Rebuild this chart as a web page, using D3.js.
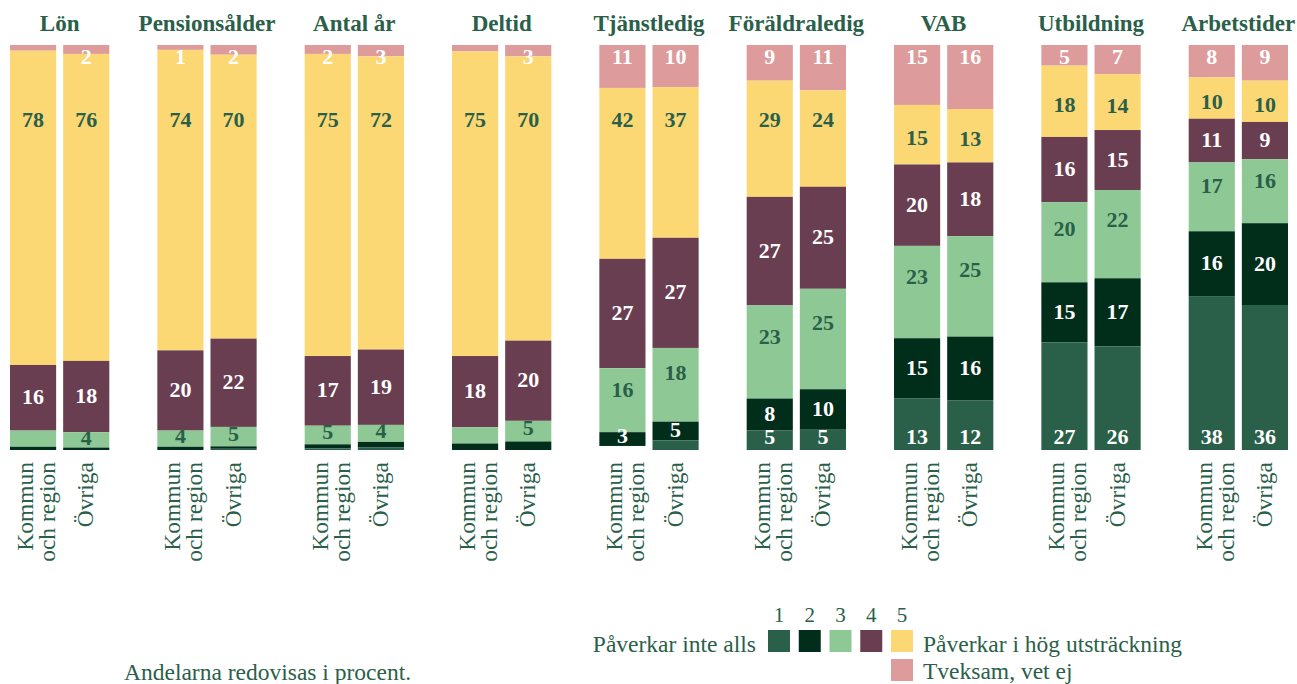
<!DOCTYPE html>
<html>
<head>
<meta charset="utf-8">
<script src="https://cdn.jsdelivr.net/npm/d3@7"></script>
<style>
  body { margin: 0; background: #fff; }
  svg { display: block; }
  text { font-family: "Liberation Serif", serif; }
</style>
</head>
<body>
<svg width="1297" height="684"></svg>
<script>
const groups = ["Lön", "Pensionsålder", "Antal år", "Deltid", "Tjänstledig", "Föräldraledig", "VAB", "Utbildning", "Arbetstider"];
const sectors = ["Kommun och region", "Övriga"];
// stacked from the top down
const seriesKeys = ["Tveksam", "5", "4", "3", "2", "1"];

// values per bar, order: Lön K, Lön Ö, Pensionsålder K, ...
const tveksam = [1.4, 2.2, 1.2, 2.4, 2.2, 2.8, 1.6, 2.8, 10.6, 10.4, 8.8, 11.2, 14.8, 15.8, 5.1, 7.2, 8, 8.8];
const s5 = [77.6, 75.8, 74.2, 70.1, 74.6, 72.4, 75.2, 70.2, 42.2, 37.2, 28.7, 23.8, 14.7, 13.2, 17.6, 13.8, 10.2, 10.2];
const s4 = [16.2, 17.6, 19.8, 21.8, 17.2, 18.6, 17.6, 19.8, 27, 27.2, 26.8, 25.2, 20.1, 18.2, 16.1, 14.8, 10.8, 9.2];
const s3 = [4, 3.8, 4, 4.8, 4.6, 4.2, 4, 5.1, 15.8, 18.2, 23, 24.8, 22.8, 24.8, 19.8, 21.8, 17, 15.8];
const s2 = [0.8, 0.6, 0.8, 0.6, 1, 1.4, 1.6, 2.1, 3.4, 4.6, 7.9, 10, 14.8, 15.8, 14.8, 16.8, 16, 20.2];
const s1 = [0, 0, 0, 0.3, 0.4, 0.6, 0, 0, 0, 2.4, 4.8, 5, 12.8, 12.2, 26.6, 25.6, 38, 35.8];

const hiddenLabels = [
  ["Lön", "Kommun och region", "Tveksam"],
  ["Lön", "Kommun och region", "3"],
  ["Deltid", "Kommun och region", "Tveksam"],
  ["Deltid", "Kommun och region", "3"]
];

const legendKeys = ["1", "2", "3", "4", "5"];
const colors = {
  "1": "#2a6049",
  "2": "#012d1b",
  "3": "#8ec995",
  "4": "#693e50",
  "5": "#fcd874",
  "Tveksam": "#dd9b9b"
};
const textGreen = "#2a6049";
const labelColor = { "Tveksam": "#fff", "5": textGreen, "4": "#fff", "3": textGreen, "2": "#fff", "1": "#fff" };

const rows = [];
groups.forEach((g, i) => {
  sectors.forEach((s, j) => {
    const k = i * 2 + j;
    rows.push({ group: g, sector: s, "Tveksam": tveksam[k], "5": s5[k], "4": s4[k], "3": s3[k], "2": s2[k], "1": s1[k] });
  });
});

const svg = d3.select('svg');

const x0 = d3.scaleBand().domain(groups).range([10, 1288]).paddingInner(0.326).paddingOuter(0);
const x1 = d3.scaleBand().domain(sectors).range([0, x0.bandwidth()]).paddingInner(0.132).paddingOuter(0);
const y = d3.scaleLinear().domain([0, 100]).range([45, 450]);

const stacked = d3.stack().keys(seriesKeys)(rows);

// bars
const layers = svg.append('g')
  .selectAll('g')
  .data(stacked)
  .join('g')
  .attr('fill', d => colors[d.key]);

layers.selectAll('rect')
  .data(d => d)
  .join('rect')
  .attr('x', d => x0(d.data.group) + x1(d.data.sector))
  .attr('y', d => y(d[0]))
  .attr('width', x1.bandwidth())
  .attr('height', d => y(d[1]) - y(d[0]));

// value labels
function isHidden(key, d) {
  const v = d[1] - d[0];
  if ((key === "1" || key === "2") && v < 3) return true;
  if (v < 0.5) return true;
  return hiddenLabels.some(h => h[0] === d.data.group && h[1] === d.data.sector && h[2] === key);
}

function labelY(key, d) {
  const top = y(d[0]), bot = y(d[1]), mid = (top + bot) / 2;
  if (key === "Tveksam") return top + 12;
  if (key === "5") return (d[1] - d[0]) >= 20 ? y(18.5) : mid + 3;
  if (key === "3") return top + (bot - top) / 3;
  if (key === "1") return bot - 13;
  if (key === "2") return Math.min(mid - 1, bot - 10);
  return mid - 1;
}

const labels = svg.append('g')
  .attr('text-anchor', 'middle')
  .style('font-weight', 'bold')
  .style('font-size', '22px');

stacked.forEach(series => {
  labels.append('g')
    .attr('fill', labelColor[series.key])
    .selectAll('text')
    .data(series.filter(d => !isHidden(series.key, d)))
    .join('text')
    .attr('x', d => x0(d.data.group) + x1(d.data.sector) + x1.bandwidth() / 2)
    .attr('y', d => labelY(series.key, d))
    .attr('dy', '0.34em')
    .text(d => d3.format('.0f')(d[1] - d[0]));
});

// group titles
svg.append('g')
  .selectAll('text')
  .data(groups)
  .join('text')
  .attr('x', d => x0(d) + x0.bandwidth() / 2)
  .attr('y', 31)
  .attr('text-anchor', 'middle')
  .attr('fill', textGreen)
  .style('font-weight', 'bold')
  .style('font-size', '23px')
  .text(d => d);

// rotated sector labels under each bar
const axisLabels = svg.append('g')
  .selectAll('g')
  .data(rows)
  .join('g')
  .attr('transform', d => `translate(${x0(d.group) + x1(d.sector) + x1.bandwidth() / 2},462) rotate(-90)`);

axisLabels.append('text')
  .attr('text-anchor', 'end')
  .attr('fill', textGreen)
  .style('font-size', '23.5px')
  .each(function (d) {
    const t = d3.select(this);
    if (d.sector === "Övriga") {
      t.append('tspan').attr('x', 0).attr('y', 7).text("Övriga");
    } else {
      t.append('tspan').attr('x', 0).attr('y', 0).text("Kommun");
      t.append('tspan').attr('x', 0).attr('y', 22).text("och region");
    }
  });

// legend
const legend = svg.append('g').attr('fill', textGreen).style('font-size', '23.5px');

legend.append('text')
  .attr('x', 756)
  .attr('y', 652)
  .attr('text-anchor', 'end')
  .text('Påverkar inte alls');

const lx = d3.scaleBand().domain(legendKeys).range([768, 913]).paddingInner(0.285).paddingOuter(0);

legend.selectAll('rect.key')
  .data(legendKeys)
  .join('rect')
  .attr('class', 'key')
  .attr('x', d => lx(d))
  .attr('y', 630)
  .attr('width', lx.bandwidth())
  .attr('height', 22)
  .attr('fill', d => colors[d]);

legend.selectAll('text.num')
  .data(legendKeys)
  .join('text')
  .attr('class', 'num')
  .attr('x', d => lx(d) + lx.bandwidth() / 2)
  .attr('y', 622)
  .attr('text-anchor', 'middle')
  .style('font-size', '21px')
  .text(d => d);

legend.append('rect')
  .attr('x', lx("5"))
  .attr('y', 659)
  .attr('width', lx.bandwidth())
  .attr('height', 22)
  .attr('fill', colors["Tveksam"]);

legend.append('text')
  .attr('x', 923)
  .attr('y', 652)
  .text('Påverkar i hög utsträckning');

legend.append('text')
  .attr('x', 923)
  .attr('y', 679)
  .text('Tveksam, vet ej');

svg.append('text')
  .attr('x', 124)
  .attr('y', 680)
  .attr('fill', textGreen)
  .style('font-size', '23.5px')
  .text('Andelarna redovisas i procent.');
</script>
</body>
</html>
